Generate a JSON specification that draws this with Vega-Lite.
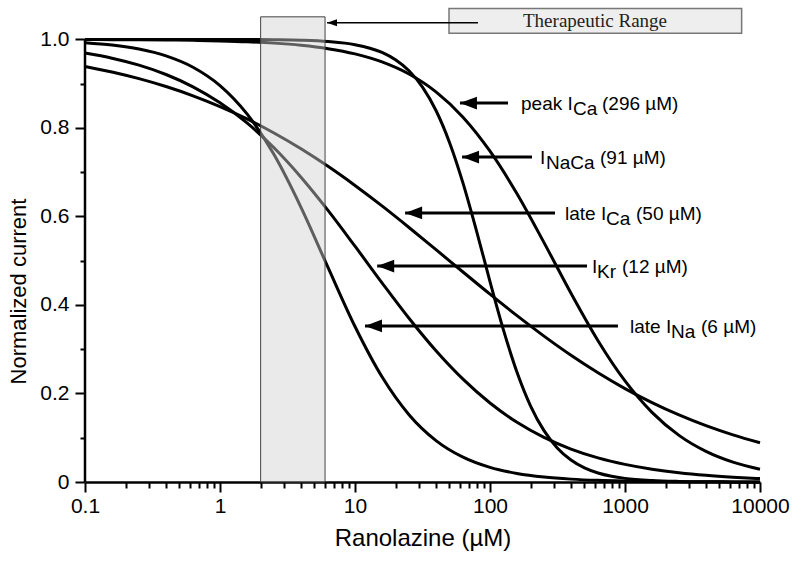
{
  "$schema": "https://vega.github.io/schema/vega-lite/v6.json",
  "width": 675,
  "height": 478,
  "autosize": {"type": "none"},
  "padding": {"left": 85, "top": 4, "right": 40, "bottom": 81},
  "background": "white",
  "config": {
    "view": {"stroke": null},
    "axis": {
      "labelFont": "Liberation Sans",
      "titleFont": "Liberation Sans",
      "labelColor": "black",
      "titleColor": "black",
      "titleFontWeight": "normal",
      "tickColor": "black",
      "grid": false
    }
  },
  "datasets": {
    "curves": [
      {"s": "A", "x": 0.1, "y": 0.9997}, {"s": "A", "x": 0.1585, "y": 0.9995}, {"s": "A", "x": 0.2512, "y": 0.9992}, {"s": "A", "x": 0.3981, "y": 0.9987}, {"s": "A", "x": 0.631, "y": 0.9979}, {"s": "A", "x": 1, "y": 0.9966}, {"s": "A", "x": 1.585, "y": 0.9947}, {"s": "A", "x": 2.512, "y": 0.9916}, {"s": "A", "x": 3.981, "y": 0.9867}, {"s": "A", "x": 6.31, "y": 0.9791}, {"s": "A", "x": 10, "y": 0.9673}, {"s": "A", "x": 15.85, "y": 0.9492}, {"s": "A", "x": 25.12, "y": 0.9218}, {"s": "A", "x": 39.81, "y": 0.8814}, {"s": "A", "x": 63.1, "y": 0.8243}, {"s": "A", "x": 100, "y": 0.7474}, {"s": "A", "x": 158.5, "y": 0.6513}, {"s": "A", "x": 251.2, "y": 0.5409}, {"s": "A", "x": 398.1, "y": 0.4264}, {"s": "A", "x": 631, "y": 0.3193}, {"s": "A", "x": 1000, "y": 0.2284}, {"s": "A", "x": 1585, "y": 0.1574}, {"s": "A", "x": 2512, "y": 0.1054}, {"s": "A", "x": 3981, "y": 0.0692}, {"s": "A", "x": 6310, "y": 0.0448}, {"s": "A", "x": 10000, "y": 0.0287},
      {"s": "B", "x": 0.1, "y": 1}, {"s": "B", "x": 0.1585, "y": 1}, {"s": "B", "x": 0.2512, "y": 1}, {"s": "B", "x": 0.3981, "y": 1}, {"s": "B", "x": 0.631, "y": 1}, {"s": "B", "x": 1, "y": 0.9999}, {"s": "B", "x": 1.585, "y": 0.9997}, {"s": "B", "x": 2.512, "y": 0.9992}, {"s": "B", "x": 3.981, "y": 0.9981}, {"s": "B", "x": 6.31, "y": 0.9952}, {"s": "B", "x": 10, "y": 0.9881}, {"s": "B", "x": 15.85, "y": 0.9706}, {"s": "B", "x": 19.95, "y": 0.9541}, {"s": "B", "x": 25.12, "y": 0.9292}, {"s": "B", "x": 31.62, "y": 0.8922}, {"s": "B", "x": 39.81, "y": 0.8393}, {"s": "B", "x": 50.12, "y": 0.7672}, {"s": "B", "x": 63.1, "y": 0.6753}, {"s": "B", "x": 79.43, "y": 0.5675}, {"s": "B", "x": 100, "y": 0.4529}, {"s": "B", "x": 125.9, "y": 0.3432}, {"s": "B", "x": 158.5, "y": 0.2479}, {"s": "B", "x": 199.5, "y": 0.1722}, {"s": "B", "x": 251.2, "y": 0.116}, {"s": "B", "x": 316.2, "y": 0.0765}, {"s": "B", "x": 398.1, "y": 0.0497}, {"s": "B", "x": 501.2, "y": 0.0319}, {"s": "B", "x": 631, "y": 0.0204}, {"s": "B", "x": 794.3, "y": 0.013}, {"s": "B", "x": 1000, "y": 0.0082}, {"s": "B", "x": 1585, "y": 0.0033}, {"s": "B", "x": 2512, "y": 0.0013}, {"s": "B", "x": 3981, "y": 0.0005}, {"s": "B", "x": 6310, "y": 0.0002}, {"s": "B", "x": 10000, "y": 0.0001},
      {"s": "C", "x": 0.1, "y": 0.939}, {"s": "C", "x": 0.1585, "y": 0.9264}, {"s": "C", "x": 0.2512, "y": 0.9113}, {"s": "C", "x": 0.3981, "y": 0.8935}, {"s": "C", "x": 0.631, "y": 0.8726}, {"s": "C", "x": 1, "y": 0.8483}, {"s": "C", "x": 1.585, "y": 0.8204}, {"s": "C", "x": 2.512, "y": 0.7885}, {"s": "C", "x": 3.981, "y": 0.7528}, {"s": "C", "x": 6.31, "y": 0.7132}, {"s": "C", "x": 10, "y": 0.67}, {"s": "C", "x": 15.85, "y": 0.6238}, {"s": "C", "x": 25.12, "y": 0.5751}, {"s": "C", "x": 39.81, "y": 0.525}, {"s": "C", "x": 63.1, "y": 0.4745}, {"s": "C", "x": 100, "y": 0.4244}, {"s": "C", "x": 158.5, "y": 0.3758}, {"s": "C", "x": 251.2, "y": 0.3296}, {"s": "C", "x": 398.1, "y": 0.2864}, {"s": "C", "x": 631, "y": 0.2469}, {"s": "C", "x": 1000, "y": 0.2111}, {"s": "C", "x": 1585, "y": 0.1794}, {"s": "C", "x": 2512, "y": 0.1515}, {"s": "C", "x": 3981, "y": 0.1272}, {"s": "C", "x": 6310, "y": 0.1064}, {"s": "C", "x": 10000, "y": 0.0886},
      {"s": "D", "x": 0.1, "y": 0.9691}, {"s": "D", "x": 0.1585, "y": 0.9575}, {"s": "D", "x": 0.2512, "y": 0.9418}, {"s": "D", "x": 0.3981, "y": 0.9207}, {"s": "D", "x": 0.631, "y": 0.8929}, {"s": "D", "x": 1, "y": 0.8568}, {"s": "D", "x": 1.585, "y": 0.8112}, {"s": "D", "x": 2.512, "y": 0.7551}, {"s": "D", "x": 3.981, "y": 0.6887}, {"s": "D", "x": 6.31, "y": 0.6137}, {"s": "D", "x": 10, "y": 0.5328}, {"s": "D", "x": 15.85, "y": 0.4501}, {"s": "D", "x": 25.12, "y": 0.3701}, {"s": "D", "x": 39.81, "y": 0.2966}, {"s": "D", "x": 63.1, "y": 0.2324}, {"s": "D", "x": 100, "y": 0.1785}, {"s": "D", "x": 158.5, "y": 0.1349}, {"s": "D", "x": 251.2, "y": 0.1007}, {"s": "D", "x": 398.1, "y": 0.0744}, {"s": "D", "x": 631, "y": 0.0545}, {"s": "D", "x": 1000, "y": 0.0398}, {"s": "D", "x": 1585, "y": 0.0289}, {"s": "D", "x": 2512, "y": 0.0209}, {"s": "D", "x": 3981, "y": 0.0151}, {"s": "D", "x": 6310, "y": 0.0109}, {"s": "D", "x": 10000, "y": 0.0078},
      {"s": "E", "x": 0.1, "y": 0.9927}, {"s": "E", "x": 0.1585, "y": 0.9874}, {"s": "E", "x": 0.2512, "y": 0.9783}, {"s": "E", "x": 0.3981, "y": 0.9629}, {"s": "E", "x": 0.631, "y": 0.9372}, {"s": "E", "x": 1, "y": 0.8957}, {"s": "E", "x": 1.585, "y": 0.8316}, {"s": "E", "x": 2.512, "y": 0.7397}, {"s": "E", "x": 3.981, "y": 0.6206}, {"s": "E", "x": 6.31, "y": 0.4849}, {"s": "E", "x": 10, "y": 0.3514}, {"s": "E", "x": 15.85, "y": 0.2377}, {"s": "E", "x": 25.12, "y": 0.1521}, {"s": "E", "x": 39.81, "y": 0.0936}, {"s": "E", "x": 63.1, "y": 0.0561}, {"s": "E", "x": 100, "y": 0.033}, {"s": "E", "x": 158.5, "y": 0.0193}, {"s": "E", "x": 251.2, "y": 0.0112}, {"s": "E", "x": 398.1, "y": 0.0065}, {"s": "E", "x": 631, "y": 0.0037}, {"s": "E", "x": 1000, "y": 0.0022}, {"s": "E", "x": 1585, "y": 0.0013}, {"s": "E", "x": 2512, "y": 0.0007}, {"s": "E", "x": 3981, "y": 0.0004}, {"s": "E", "x": 6310, "y": 0.0002}, {"s": "E", "x": 10000, "y": 0.0001}
    ],
    "band": [{"x": 2, "x2": 6, "y": 0, "y2": 1.051}],
    "legendbox": [{"x": 49.7, "x2": 7311, "y": 1.0137, "y2": 1.07}],
    "legendarrow": [{"x": 6.2, "x2": 81.5, "y": 1.0377}],
    "legendtext": [{"x": 599.6, "y": 1.042, "t": "Therapeutic Range"}],
    "arrows": [
      {"x": 59.9, "x2": 135.9, "y": 0.8563},
      {"x": 62.1, "x2": 204.6, "y": 0.7343},
      {"x": 23.5, "x2": 303, "y": 0.6078},
      {"x": 14.6, "x2": 523, "y": 0.488},
      {"x": 11.86, "x2": 887, "y": 0.3525}
    ],
    "labels": [
      {"x": 169.7, "y": 0.8563, "t": "peak I", "part": "main"},
      {"x": 411.8, "y": 0.8563, "t": "Ca", "part": "sub"},
      {"x": 675.4, "y": 0.8563, "t": "(296 µM)", "part": "main"},
      {"x": 234.7, "y": 0.7343, "t": "I", "part": "main"},
      {"x": 259.9, "y": 0.7343, "t": "NaCa", "part": "sub"},
      {"x": 652.8, "y": 0.7343, "t": "(91 µM)", "part": "main"},
      {"x": 359.4, "y": 0.6078, "t": "late I", "part": "main"},
      {"x": 723.5, "y": 0.6078, "t": "Ca", "part": "sub"},
      {"x": 1206.6, "y": 0.6078, "t": "(50 µM)", "part": "main"},
      {"x": 569.5, "y": 0.488, "t": "I", "part": "main"},
      {"x": 620.3, "y": 0.488, "t": "Kr", "part": "sub"},
      {"x": 950.1, "y": 0.488, "t": "(12 µM)", "part": "main"},
      {"x": 1089, "y": 0.3525, "t": "late I", "part": "main"},
      {"x": 2191, "y": 0.3525, "t": "Na", "part": "sub"},
      {"x": 3656, "y": 0.3525, "t": "(6 µM)", "part": "main"}
    ],
    "yline": [{"x": 0.1, "y": 0, "y2": 1}]
  },
  "encoding": {
    "x": {
      "field": "x",
      "type": "quantitative",
      "scale": {"type": "log", "domain": [0.1, 10000], "nice": false},
      "axis": {
        "title": "Ranolazine (µM)",
        "titleFontSize": 24,
        "titleY": 63,
        "titleBaseline": "alphabetic",
        "values": [0.1, 0.2, 0.3, 0.4, 0.5, 0.6, 0.7, 0.8, 0.9, 1, 2, 3, 4, 5, 6, 7, 8, 9, 10, 20, 30, 40, 50, 60, 70, 80, 90, 100, 200, 300, 400, 500, 600, 700, 800, 900, 1000, 2000, 3000, 4000, 5000, 6000, 7000, 8000, 9000, 10000],
        "labelExpr": "abs(log(datum.value)/LN10 - round(log(datum.value)/LN10)) < 0.01 ? '' + datum.value : ''",
        "tickSize": {"condition": {"test": "abs(log(datum.value)/LN10 - round(log(datum.value)/LN10)) < 0.01", "value": 10}, "value": 6},
        "tickWidth": 2,
        "labelFontSize": 21,
        "labelPadding": 3,
        "labelOverlap": false,
        "labelFlush": false,
        "labelBound": false,
        "domainColor": "black",
        "domainWidth": 2.5
      }
    },
    "y": {
      "field": "y",
      "type": "quantitative",
      "scale": {"domain": [0, 1.08], "nice": false, "zero": false},
      "axis": {
        "title": "Normalized current",
        "titleFontSize": 22,
        "titleX": -67,
        "titleY": 287,
        "titleBaseline": "middle",
        "values": [0, 0.1, 0.2, 0.3, 0.4, 0.5, 0.6, 0.7, 0.8, 0.9, 1],
        "labelExpr": "round(datum.value*10) % 2 == 0 ? (datum.value == 0 ? '0' : format(datum.value, '.1f')) : ''",
        "tickSize": {"condition": {"test": "round(datum.value*10) % 2 == 0", "value": 10}, "value": 5},
        "tickWidth": 2,
        "labelFontSize": 21,
        "labelPadding": 6,
        "labelOverlap": false,
        "labelFlush": false,
        "domain": false
      }
    }
  },
  "layer": [
    {
      "data": {"name": "curves"},
      "mark": {"type": "line", "color": "black", "strokeWidth": 3, "interpolate": "monotone"},
      "encoding": {"detail": {"field": "s"}}
    },
    {
      "data": {"name": "band"},
      "mark": {"type": "rect", "fill": "#d0d0d0", "fillOpacity": 0.45, "stroke": "#444", "strokeWidth": 1},
      "encoding": {"x2": {"field": "x2"}, "y2": {"field": "y2"}}
    },
    {
      "data": {"name": "legendbox"},
      "mark": {"type": "rect", "fill": "#eeeeee", "stroke": "#777", "strokeWidth": 1.5},
      "encoding": {"x2": {"field": "x2"}, "y2": {"field": "y2"}}
    },
    {
      "data": {"name": "legendarrow"},
      "mark": {"type": "rule", "color": "black", "strokeWidth": 1.5},
      "encoding": {"x2": {"field": "x2"}}
    },
    {
      "data": {"name": "legendarrow"},
      "mark": {"type": "point", "shape": "M0,0L2,-0.7L2,0.7Z", "filled": true, "size": 100, "color": "black", "opacity": 1, "strokeWidth": 0}
    },
    {
      "data": {"name": "legendtext"},
      "mark": {"type": "text", "font": "Liberation Serif", "fontSize": 19, "align": "center", "baseline": "middle", "color": "#222"},
      "encoding": {"text": {"field": "t"}}
    },
    {
      "data": {"name": "arrows"},
      "mark": {"type": "rule", "color": "black", "strokeWidth": 3},
      "encoding": {"x2": {"field": "x2"}}
    },
    {
      "data": {"name": "arrows"},
      "mark": {"type": "point", "shape": "M0,0L2,-0.75L2,0.75Z", "filled": true, "size": 289, "color": "black", "opacity": 1, "strokeWidth": 0}
    },
    {
      "data": {"name": "labels"},
      "transform": [{"filter": "datum.part == 'main'"}],
      "mark": {"type": "text", "font": "Liberation Sans", "fontSize": 19, "align": "left", "baseline": "alphabetic", "dy": 7, "color": "black"},
      "encoding": {"text": {"field": "t"}}
    },
    {
      "data": {"name": "labels"},
      "transform": [{"filter": "datum.part == 'sub'"}],
      "mark": {"type": "text", "font": "Liberation Sans", "fontSize": 19, "align": "left", "baseline": "alphabetic", "dy": 12, "color": "black"},
      "encoding": {"text": {"field": "t"}}
    },
    {
      "data": {"name": "yline"},
      "mark": {"type": "rule", "color": "black", "strokeWidth": 2.5},
      "encoding": {"y2": {"field": "y2"}}
    }
  ]
}
